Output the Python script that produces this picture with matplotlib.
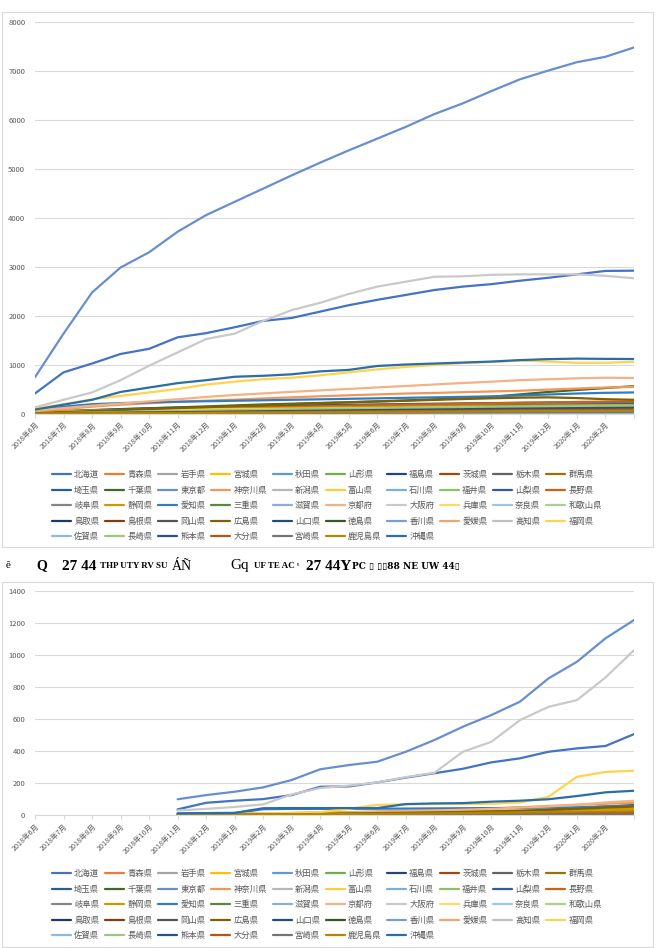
import colorsys
import numpy as np
import matplotlib
matplotlib.use('Agg')
import matplotlib.pyplot as plt
from matplotlib.patches import Rectangle

plt.rcParams['font.family'] = ['Noto Sans CJK JP', 'DejaVu Sans']

# カテゴリ（最後の1点はラベル無し）
months = ['2018年6月', '2018年7月', '2018年8月', '2018年9月', '2018年10月', '2018年11月',
          '2018年12月', '2019年1月', '2019年2月', '2019年3月', '2019年4月', '2019年5月',
          '2019年6月', '2019年7月', '2019年8月', '2019年9月', '2019年10月', '2019年11月',
          '2019年12月', '2020年1月', '2020年2月', '']

prefs = ['北海道', '青森県', '岩手県', '宮城県', '秋田県', '山形県', '福島県', '茨城県', '栃木県', '群馬県',
         '埼玉県', '千葉県', '東京都', '神奈川県', '新潟県', '富山県', '石川県', '福井県', '山梨県', '長野県',
         '岐阜県', '静岡県', '愛知県', '三重県', '滋賀県', '京都府', '大阪府', '兵庫県', '奈良県', '和歌山県',
         '鳥取県', '島根県', '岡山県', '広島県', '山口県', '徳島県', '香川県', '愛媛県', '高知県', '福岡県',
         '佐賀県', '長崎県', '熊本県', '大分県', '宮崎県', '鹿児島県', '沖縄県']

# 上のグラフ（2018年6月〜、22点）
top_counts = [
    [420, 850, 1030, 1225, 1330, 1565, 1650, 1770, 1900, 1960, 2090, 2220, 2330, 2430, 2530, 2600, 2650, 2720, 2780, 2850, 2920, 2925],
    [3, 5, 7, 9, 11, 12, 14, 15, 17, 18, 20, 21, 23, 24, 26, 27, 29, 30, 31, 33, 34, 35],
    [6, 9, 12, 14, 17, 19, 22, 24, 27, 29, 31, 33, 35, 37, 39, 41, 43, 45, 47, 49, 50, 52],
    [18, 28, 38, 46, 54, 60, 66, 72, 78, 83, 88, 93, 98, 103, 108, 112, 116, 120, 124, 127, 130, 132],
    [1, 2, 3, 4, 5, 6, 7, 7, 8, 9, 10, 11, 12, 13, 13, 14, 15, 16, 17, 18, 18, 19],
    [4, 6, 8, 10, 12, 14, 16, 18, 20, 21, 23, 25, 26, 28, 30, 31, 33, 34, 36, 37, 38, 39],
    [5, 7, 9, 11, 13, 15, 17, 19, 21, 23, 25, 27, 29, 31, 33, 35, 37, 39, 41, 42, 43, 44],
    [7, 11, 15, 19, 23, 26, 30, 33, 36, 39, 42, 45, 48, 51, 54, 57, 60, 63, 66, 68, 70, 72],
    [8, 13, 18, 23, 28, 33, 38, 43, 48, 52, 56, 60, 64, 68, 72, 76, 80, 84, 88, 91, 94, 96],
    [6, 9, 12, 15, 18, 21, 24, 27, 30, 33, 36, 39, 42, 45, 48, 51, 54, 57, 60, 62, 64, 66],
    [30, 60, 80, 100, 118, 130, 140, 150, 160, 170, 180, 188, 196, 203, 210, 216, 222, 227, 232, 236, 238, 240],
    [30, 50, 75, 95, 115, 135, 155, 175, 195, 210, 225, 240, 258, 278, 300, 322, 350, 400, 450, 490, 530, 568],
    [750, 1640, 2480, 2990, 3300, 3720, 4060, 4330, 4600, 4870, 5130, 5380, 5620, 5860, 6120, 6340, 6590, 6830, 7010, 7180, 7290, 7480],
    [60, 100, 150, 190, 220, 250, 272, 292, 318, 340, 362, 382, 400, 418, 430, 445, 460, 475, 498, 520, 540, 557],
    [12, 18, 24, 30, 36, 42, 48, 54, 60, 66, 72, 78, 84, 90, 96, 102, 108, 114, 120, 125, 129, 133],
    [4, 7, 10, 13, 16, 19, 22, 25, 28, 31, 34, 37, 40, 43, 46, 49, 52, 55, 58, 60, 62, 64],
    [25, 45, 62, 75, 86, 96, 106, 115, 124, 133, 142, 151, 160, 166, 172, 178, 184, 190, 195, 200, 204, 207],
    [2, 4, 6, 8, 10, 12, 14, 16, 18, 20, 22, 24, 26, 28, 30, 31, 33, 35, 37, 39, 40, 41],
    [18, 30, 42, 54, 64, 74, 84, 94, 104, 114, 124, 132, 140, 148, 156, 164, 172, 180, 187, 193, 198, 202],
    [22, 38, 52, 66, 80, 94, 108, 122, 134, 146, 158, 170, 180, 190, 200, 210, 220, 230, 238, 246, 252, 258],
    [10, 15, 20, 25, 30, 35, 40, 45, 50, 55, 60, 65, 70, 75, 80, 85, 90, 95, 100, 104, 107, 110],
    [40, 58, 70, 80, 90, 100, 106, 112, 118, 124, 130, 136, 142, 148, 154, 160, 165, 170, 174, 178, 181, 184],
    [80, 150, 200, 222, 238, 250, 260, 270, 280, 290, 300, 310, 320, 330, 340, 350, 360, 378, 398, 418, 432, 440],
    [8, 12, 16, 20, 24, 28, 32, 36, 40, 44, 48, 52, 56, 60, 64, 68, 72, 76, 80, 83, 86, 88],
    [5, 8, 11, 14, 17, 20, 23, 26, 29, 32, 35, 38, 41, 44, 47, 50, 53, 56, 59, 61, 63, 65],
    [70, 120, 170, 212, 258, 300, 348, 388, 420, 452, 482, 512, 542, 572, 602, 632, 660, 690, 710, 728, 740, 735],
    [135, 290, 440, 690, 985, 1257, 1530, 1640, 1900, 2120, 2270, 2450, 2600, 2700, 2800, 2810, 2840, 2850, 2850, 2850, 2820, 2770],
    [30, 45, 56, 66, 76, 85, 91, 96, 101, 106, 111, 116, 121, 126, 131, 136, 140, 143, 146, 148, 150, 152],
    [6, 10, 14, 18, 22, 26, 30, 34, 38, 42, 46, 50, 54, 58, 62, 66, 70, 73, 76, 79, 82, 84],
    [10, 16, 22, 28, 34, 40, 46, 52, 58, 64, 70, 76, 82, 88, 94, 99, 104, 108, 112, 116, 118, 120],
    [1, 2, 3, 4, 5, 6, 7, 8, 9, 10, 11, 12, 13, 14, 15, 16, 17, 18, 19, 20, 20, 21],
    [1, 1, 2, 3, 3, 4, 5, 5, 6, 7, 7, 8, 9, 9, 10, 11, 11, 12, 13, 13, 14, 14],
    [5, 8, 11, 14, 17, 20, 23, 26, 29, 32, 35, 38, 41, 44, 47, 50, 53, 56, 59, 61, 63, 65],
    [20, 40, 60, 80, 100, 120, 140, 160, 180, 200, 220, 238, 255, 270, 288, 305, 320, 333, 340, 325, 302, 290],
    [3, 5, 7, 9, 11, 13, 15, 17, 19, 21, 23, 25, 27, 29, 31, 33, 35, 37, 39, 40, 42, 43],
    [2, 4, 6, 8, 10, 12, 14, 16, 18, 20, 22, 24, 26, 28, 30, 32, 34, 35, 37, 38, 40, 41],
    [4, 7, 10, 13, 16, 19, 22, 25, 28, 31, 34, 37, 40, 43, 46, 49, 52, 55, 58, 60, 62, 64],
    [3, 6, 9, 12, 15, 18, 21, 24, 27, 30, 33, 36, 39, 42, 45, 48, 51, 54, 56, 58, 60, 62],
    [2, 4, 6, 8, 10, 12, 14, 16, 18, 20, 22, 24, 26, 28, 30, 32, 34, 36, 38, 39, 40, 41],
    [110, 200, 300, 370, 440, 510, 600, 660, 710, 740, 790, 850, 910, 960, 1000, 1040, 1060, 1090, 1070, 1045, 1045, 1065],
    [2, 3, 4, 5, 6, 7, 8, 9, 10, 11, 12, 13, 14, 15, 16, 17, 18, 19, 20, 21, 22, 23],
    [10, 20, 30, 40, 50, 60, 70, 80, 88, 96, 104, 110, 116, 122, 128, 136, 142, 148, 154, 160, 165, 170],
    [8, 14, 20, 26, 32, 38, 44, 50, 56, 62, 68, 74, 80, 86, 92, 98, 104, 110, 115, 120, 124, 128],
    [6, 10, 14, 18, 22, 26, 30, 34, 38, 42, 46, 50, 54, 58, 62, 66, 70, 74, 78, 81, 84, 86],
    [2, 4, 6, 8, 10, 12, 14, 16, 18, 20, 22, 24, 26, 28, 30, 32, 34, 36, 37, 39, 40, 42],
    [5, 8, 11, 14, 17, 20, 23, 26, 29, 32, 35, 38, 41, 44, 47, 50, 53, 56, 59, 61, 63, 65],
    [90, 190, 290, 450, 540, 630, 690, 760, 780, 810, 870, 900, 980, 1010, 1030, 1050, 1070, 1100, 1120, 1130, 1125, 1122],
]

# 下のグラフ（2018年11月〜、17点）
bottom_start = 5
bottom_counts = [
    [37, 78, 91, 101, 126, 178, 180, 205, 235, 262, 290, 330, 355, 396, 417, 432, 506],
    [0, 0, 1, 1, 1, 2, 2, 2, 3, 3, 3, 4, 4, 5, 5, 6, 6],
    [1, 1, 1, 2, 2, 2, 3, 3, 3, 4, 4, 5, 5, 6, 6, 7, 7],
    [2, 3, 3, 4, 5, 6, 7, 8, 9, 10, 11, 12, 13, 14, 15, 16, 17],
    [0, 0, 0, 0, 1, 1, 1, 1, 1, 1, 2, 2, 2, 2, 2, 3, 3],
    [0, 1, 1, 1, 1, 2, 2, 2, 2, 3, 3, 3, 3, 4, 4, 4, 5],
    [1, 1, 1, 2, 2, 2, 3, 3, 3, 4, 4, 4, 5, 5, 6, 6, 7],
    [1, 1, 2, 2, 3, 3, 4, 4, 5, 5, 6, 6, 7, 7, 8, 9, 10],
    [2, 2, 3, 3, 4, 4, 5, 5, 6, 6, 7, 8, 9, 10, 11, 12, 13],
    [3, 4, 5, 6, 7, 8, 9, 10, 11, 12, 13, 14, 15, 16, 17, 18, 20],
    [2, 3, 4, 5, 6, 7, 8, 9, 10, 11, 12, 13, 14, 15, 16, 18, 20],
    [2, 3, 4, 5, 6, 8, 10, 12, 14, 16, 18, 20, 25, 35, 45, 55, 64],
    [100, 126, 147, 174, 220, 287, 313, 334, 396, 469, 552, 625, 708, 853, 957, 1103, 1217],
    [5, 7, 9, 11, 14, 17, 20, 24, 28, 32, 36, 42, 50, 58, 66, 72, 78],
    [1, 2, 2, 3, 3, 4, 4, 5, 5, 6, 6, 7, 7, 8, 8, 9, 10],
    [2, 3, 4, 5, 6, 7, 8, 9, 10, 11, 12, 13, 14, 16, 18, 20, 22],
    [3, 4, 5, 6, 7, 8, 9, 10, 11, 12, 13, 14, 15, 17, 19, 21, 23],
    [0, 1, 1, 1, 2, 2, 2, 3, 3, 3, 4, 4, 4, 5, 5, 6, 6],
    [3, 4, 5, 6, 7, 8, 9, 10, 11, 12, 13, 14, 16, 18, 20, 22, 24],
    [4, 5, 6, 7, 8, 10, 12, 14, 16, 18, 20, 22, 24, 27, 30, 33, 36],
    [2, 3, 3, 4, 5, 6, 7, 8, 9, 10, 11, 12, 13, 14, 15, 16, 17],
    [6, 8, 10, 12, 14, 16, 18, 20, 22, 24, 26, 28, 30, 32, 34, 37, 40],
    [10, 12, 14, 38, 40, 40, 41, 41, 42, 43, 44, 45, 46, 48, 50, 55, 60],
    [1, 2, 2, 3, 3, 4, 4, 5, 5, 6, 6, 7, 7, 8, 9, 10, 11],
    [1, 1, 2, 2, 3, 3, 4, 4, 5, 5, 6, 6, 7, 7, 8, 9, 10],
    [3, 5, 7, 9, 12, 15, 18, 22, 26, 30, 35, 40, 48, 55, 65, 80, 91],
    [30, 40, 52, 68, 130, 170, 185, 205, 238, 265, 396, 458, 593, 676, 718, 859, 1029],
    [4, 5, 6, 7, 8, 9, 10, 11, 12, 13, 14, 16, 18, 20, 22, 24, 26],
    [1, 1, 2, 2, 2, 3, 3, 4, 4, 5, 5, 6, 6, 7, 7, 8, 8],
    [2, 2, 3, 3, 4, 4, 5, 5, 6, 6, 7, 7, 8, 9, 10, 11, 12],
    [0, 0, 0, 1, 1, 1, 1, 1, 2, 2, 2, 2, 2, 3, 3, 3, 3],
    [0, 0, 0, 0, 0, 1, 1, 1, 1, 1, 1, 2, 2, 2, 2, 2, 2],
    [1, 1, 2, 2, 3, 3, 4, 4, 5, 5, 6, 6, 7, 8, 9, 10, 11],
    [3, 4, 5, 6, 8, 10, 12, 14, 16, 18, 20, 24, 28, 34, 40, 48, 54],
    [0, 1, 1, 1, 2, 2, 2, 3, 3, 3, 4, 4, 5, 5, 6, 6, 7],
    [0, 0, 1, 1, 1, 1, 2, 2, 2, 2, 3, 3, 3, 4, 4, 4, 5],
    [1, 1, 1, 2, 2, 2, 3, 3, 3, 4, 4, 5, 5, 6, 6, 7, 8],
    [1, 1, 1, 2, 2, 3, 3, 3, 4, 4, 5, 5, 6, 6, 7, 7, 8],
    [0, 1, 1, 1, 1, 2, 2, 2, 3, 3, 3, 4, 4, 4, 5, 5, 6],
    [5, 8, 10, 12, 15, 20, 40, 65, 68, 70, 70, 72, 80, 115, 240, 270, 278],
    [0, 0, 1, 1, 1, 1, 2, 2, 2, 2, 3, 3, 3, 3, 4, 4, 4],
    [2, 2, 3, 3, 4, 4, 5, 5, 6, 6, 7, 8, 9, 10, 11, 12, 13],
    [2, 3, 3, 4, 5, 5, 6, 7, 8, 9, 10, 11, 12, 13, 14, 15, 16],
    [2, 2, 3, 3, 4, 4, 5, 6, 7, 8, 9, 10, 11, 12, 13, 14, 15],
    [0, 1, 1, 1, 1, 2, 2, 2, 3, 3, 3, 3, 4, 4, 4, 5, 5],
    [3, 4, 5, 6, 7, 8, 9, 10, 11, 12, 14, 16, 18, 20, 22, 24, 26],
    [12, 14, 15, 44, 45, 45, 45, 45, 70, 74, 76, 85, 91, 100, 120, 143, 153],
]

# Excel の既定配色（アクセント6色 × 明度違い）
accents = ['#4472C4', '#ED7D31', '#A5A5A5', '#FFC000', '#5B9BD5', '#70AD47']
tiers = [(1.0, 0.0), (0.6, 0.0), (0.8, 0.2), (0.8, 0.0), (0.6, 0.4),
         (0.5, 0.0), (0.7, 0.3), (0.7, 0.0), (0.5, 0.5)]


def excel_color(i):
    r, g, b = matplotlib.colors.to_rgb(accents[i % 6])
    h, l, s = colorsys.rgb_to_hls(r, g, b)
    mod, off = tiers[i // 6]
    return colorsys.hls_to_rgb(h, min(1.0, l * mod + off), s)


W, H = 658, 948
fig = plt.figure(figsize=(W / 100, H / 100), dpi=100)

grey_txt = '#595959'
grid_c = '#D9D9D9'


def fx(px):
    return px / W


def fy(py):
    return 1 - py / H


def draw_chart(y_top_px, y_zero_px, ymax, ystep, counts, start, box, legend_y):
    # 枠
    fig.patches.append(Rectangle((fx(box[0]), fy(box[3])), fx(box[2] - box[0]), (box[3] - box[1]) / H,
                                 transform=fig.transFigure, fill=False, edgecolor=grid_c, lw=0.8))
    ax = fig.add_axes([fx(35), fy(y_zero_px), fx(634 - 35), (y_zero_px - y_top_px) / H])
    x = np.arange(len(months))
    handles = []
    for i, vals in enumerate(counts):
        ln, = ax.plot(x[start:start + len(vals)], vals, color=excel_color(i), lw=1.6,
                      solid_capstyle='round', label=prefs[i])
        handles.append(ln)
    ax.set_xlim(0, len(months) - 1)
    ax.set_ylim(0, ymax)
    ax.set_yticks(np.arange(0, ymax + 1, ystep))
    ax.yaxis.grid(True, color=grid_c, lw=0.8)
    ax.set_axisbelow(True)
    for s in ['top', 'right', 'left']:
        ax.spines[s].set_visible(False)
    ax.spines['bottom'].set_color(grid_c)
    ax.spines['bottom'].set_linewidth(0.8)
    ax.tick_params(axis='y', length=0, labelsize=5.5, labelcolor=grey_txt, pad=7)
    ax.set_xticks(x)
    ax.set_xticklabels(months, rotation=45, ha='right', rotation_mode='anchor')
    ax.tick_params(axis='x', length=3, color=grid_c, labelsize=5.2, labelcolor=grey_txt, pad=2)

    # 凡例（行優先で並べる）
    ncol = 10
    order = []
    for c in range(ncol):
        for r in range(5):
            k = r * ncol + c
            if k < len(handles):
                order.append(k)
    fig.legend([handles[k] for k in order], [prefs[k] for k in order],
               loc='upper center', bbox_to_anchor=(fx(327), fy(legend_y)), ncol=ncol,
               frameon=False, fontsize=6, labelcolor=grey_txt, handlelength=2.3,
               handletextpad=0.35, columnspacing=0.7, labelspacing=0.78, borderpad=0)
    return ax


draw_chart(22, 414, 8000, 1000, top_counts, 0, (2, 12, 653, 547), 466)
draw_chart(590.7, 815.3, 1400, 200, bottom_counts, bottom_start, (2, 582, 653, 947), 865)

# 文字化けしたキャプション
cap_y = fy(566)
serif = ['Liberation Serif', 'DejaVu Serif']
fig.text(fx(6), cap_y, 'ê', fontsize=8, family=serif, va='center')
fig.text(fx(36), cap_y, 'Q', fontsize=10, family=serif, va='center', weight='bold')
fig.text(fx(62), cap_y, '27 44', fontsize=11, family=serif, va='center', weight='bold')
fig.text(fx(100), cap_y, 'THP UTY RV SU', fontsize=6.5, family=serif, va='center', weight='bold')
fig.text(fx(172), cap_y, 'ÁÑ', fontsize=10, family=serif, va='center')
fig.text(fx(230), cap_y, 'Gq', fontsize=11, family=serif, va='center')
fig.text(fx(254), cap_y, 'UF TE AC ᵗ', fontsize=6.5, family=serif, va='center', weight='bold')
fig.text(fx(306), cap_y, '27 44Y', fontsize=11, family=serif, va='center', weight='bold')
fig.text(fx(352), cap_y, 'PC ▯ ▯▯88 NE UW 44▯', fontsize=6.5, family=['DejaVu Serif'], va='center', weight='bold')

fig.savefig('out.png', dpi=100)
